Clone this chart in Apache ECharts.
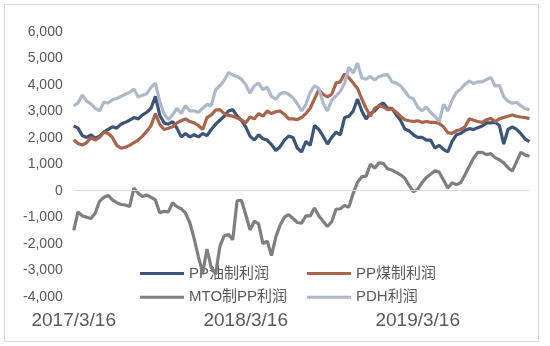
<!DOCTYPE html>
<html><head><meta charset="utf-8">
<script src="https://cdn.jsdelivr.net/npm/echarts@6/dist/echarts.min.js"></script>
<style>html,body{margin:0;padding:0;background:#fff}#c{width:550px;height:346px}</style>
</head><body><div id="c"></div>
<script>
const tickLabels = ['2017/3/16', '2018/3/16', '2019/3/16'];
const tickIndex = [0, 40, 80];
const seriesNames = ['PP油制利润', 'PP煤制利润', 'MTO制PP利润', 'PDH利润'];

const ppOil = [2450,2360,2080,2010,2110,1980,2060,2210,2310,2410,
 2360,2510,2580,2660,2760,2710,2860,2960,3110,3560,
 2860,2560,2510,2610,2360,2030,2160,2030,2110,2030,
 2160,2080,2310,2510,2660,2810,3010,3060,2810,2660,
 2410,2060,1910,2110,1960,1910,1740,1510,1660,1910,
 2060,2010,1610,1460,1860,1710,2460,2310,2060,1760,
 2010,2210,2110,2760,2810,3010,3460,3010,2710,2910,
 3010,3210,3310,3110,3110,2860,2660,2330,2260,2110,
 2010,2010,1910,1910,1610,1710,1560,1460,1860,2110,
 2160,2280,2340,2310,2380,2440,2560,2560,2580,2460,
 1760,2310,2410,2310,2150,1950,1850];

const ppCoal = [1920,1780,1720,1810,2010,1910,2010,2210,2160,2010,
 1710,1600,1640,1710,1810,1910,2060,2240,2460,2910,
 2510,2310,2360,2410,2560,2640,2710,2610,2560,2460,
 2310,2760,2860,3040,3060,2910,2840,2810,2740,2680,
 2560,2780,2710,2910,2810,3010,2910,2980,3010,2880,
 2710,2710,2680,2760,2910,3110,3460,3810,3640,3540,
 3640,4060,4110,4410,4260,4060,3860,3460,3110,2810,
 3110,3210,3160,3060,3090,2960,2810,2680,2640,2610,
 2640,2580,2610,2580,2580,2540,2410,2190,2160,2260,
 2310,2410,2710,2660,2610,2580,2680,2730,2610,2710,
 2760,2810,2860,2810,2780,2760,2720];

const mtoPP = [-1500,-800,-950,-1000,-1050,-850,-400,-250,-180,-350,
 -450,-520,-540,-600,100,-100,-220,-160,-250,-350,
 -830,-780,-800,-450,-600,-680,-850,-1200,-1800,-2500,
 -3100,-2200,-2900,-3150,-2100,-1700,-1650,-1850,-380,-360,
 -900,-1480,-1150,-1250,-2000,-1900,-2450,-1750,-1300,-1000,
 -900,-1050,-1200,-1230,-950,-950,-650,-950,-1150,-1350,
 -1170,-700,-680,-560,-620,-100,320,530,550,1000,
 850,1050,1030,830,780,690,600,470,200,-40,
 60,300,500,620,750,700,400,100,300,230,
 300,600,920,1230,1450,1450,1360,1400,1250,1170,
 1050,870,740,1100,1450,1350,1300];

const pdh = [3200,3310,3610,3380,3280,3110,3010,3340,3310,3430,
 3480,3560,3640,3710,3840,3540,3600,3660,3910,4060,
 3360,2910,2680,2860,3110,2910,3210,3010,3010,2960,
 3110,3260,3210,3810,3960,4160,4460,4360,4310,4210,
 4010,3680,3960,4060,3810,3910,3560,3440,3660,3710,
 3640,3510,3280,3010,3260,3710,3960,3860,3310,3010,
 3410,3580,3740,4060,4660,4440,4810,4260,4210,4310,
 4180,4310,4360,4380,4110,4060,3960,3760,3540,3460,
 3160,3010,3160,2960,2810,2610,3260,3010,3410,3710,
 3840,4010,4140,4040,4110,4110,4190,4280,3940,3980,
 3540,3380,3300,3340,3200,3100,3050];

const categories = ppOil.map((_, i) => String(i));
const colors = ['#3B5478', '#A9654B', '#7F7F7F', '#ADB9CB'];
const dataList = [ppOil, ppCoal, mtoPP, pdh];

const chart = echarts.init(document.getElementById('c'), null, {renderer: 'canvas'});
const fontLatin = '"Liberation Sans", "Noto Sans CJK SC", sans-serif';

const series = dataList.map((d, k) => ({
  name: seriesNames[k],
  type: 'line',
  data: d,
  symbol: 'none',
  z: 2,
  lineStyle: {color: colors[k], width: 3.2},
  itemStyle: {color: colors[k]},
  emphasis: {disabled: true},
  animation: false
}));
series[0].markLine = {
  silent: true, symbol: 'none', animation: false,
  label: {show: false},
  lineStyle: {color: '#D9D9D9', width: 1, type: 'solid'},
  data: [{yAxis: 0}]
};

const legendCommon = {
  orient: 'vertical', top: 261, icon: 'rect', itemWidth: 44, itemHeight: 3, itemGap: 8.7, z: 1,
  textStyle: {color: '#595959', fontSize: 15, fontFamily: fontLatin, lineHeight: 14},
  selectedMode: false
};

chart.setOption({
  animation: false,
  backgroundColor: '#fff',
  grid: {left: 73.7, right: 20.5, top: 31.7, bottom: 49.3, containLabel: false},
  legend: [
    Object.assign({}, legendCommon, {left: 135, data: [seriesNames[0], seriesNames[2]]}),
    Object.assign({}, legendCommon, {left: 302, data: [seriesNames[1], seriesNames[3]]})
  ],
  xAxis: {
    type: 'category', data: categories, boundaryGap: false,
    axisLine: {show: false, onZero: false}, axisTick: {show: false}, splitLine: {show: false},
    axisLabel: {
      interval: (idx) => tickIndex.includes(idx),
      formatter: (v, idx) => tickLabels[tickIndex.indexOf(idx)] || '',
      color: '#595959', fontSize: 19, fontFamily: fontLatin, margin: 15
    }
  },
  yAxis: {
    type: 'value', min: -4000, max: 6000, interval: 1000,
    axisLine: {show: false}, axisTick: {show: false}, splitLine: {show: false},
    axisLabel: {
      color: '#595959', fontSize: 14, fontFamily: fontLatin, margin: 11,
      formatter: (v) => v.toLocaleString('en-US')
    }
  },
  graphic: [{
    type: 'rect', silent: true, z: -10,
    shape: {x: 4.5, y: 4.5, width: 534, height: 337},
    style: {fill: 'none', stroke: '#D9D9D9', lineWidth: 1}
  }],
  series: series
});
</script></body></html>
